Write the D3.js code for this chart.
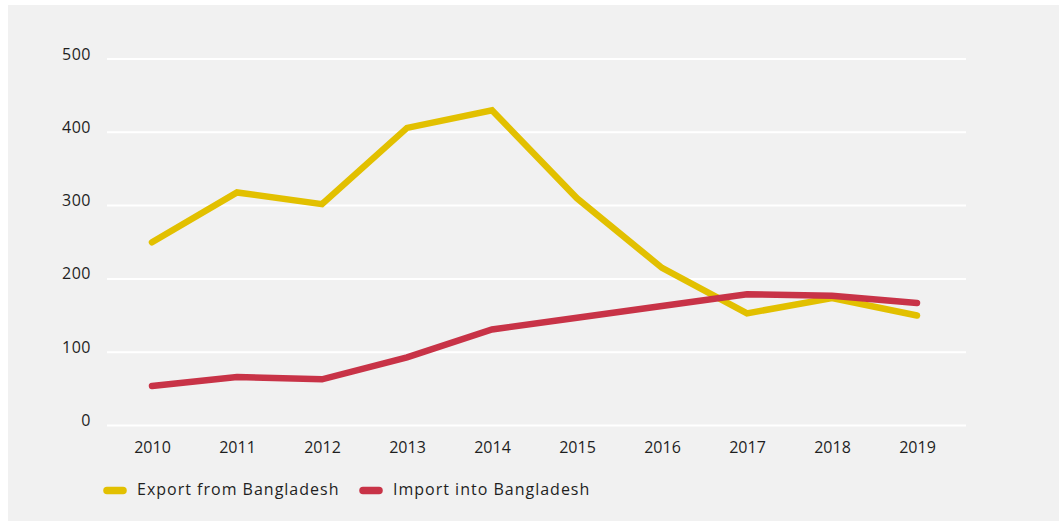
<!DOCTYPE html>
<html>
<head>
<meta charset="utf-8">
<script src="https://cdn.jsdelivr.net/npm/d3@7"></script>
<style>
  html, body { margin: 0; padding: 0; background: #ffffff; }
  svg { display: block; }
  text { font-family: "Open Sans", "DejaVu Sans", sans-serif; fill: #1f1f1f; }
</style>
</head>
<body>
<svg id="chart" width="1059" height="522"></svg>
<script>
// Trade between the two countries, 2010–2019
const years = ["2010", "2011", "2012", "2013", "2014", "2015", "2016", "2017", "2018", "2019"];
const exportValues = [250, 318, 302, 406, 430, 310, 215, 153, 174, 150];
const importValues = [54, 66, 63, 93, 131, 147, 163, 179, 177, 167];
const yTicks = [0, 100, 200, 300, 400, 500];
const seriesNames = ["Export from Bangladesh", "Import into Bangladesh"];
const seriesColors = ["#e2c000", "#c83347"];

const svg = d3.select("#chart");

// panel background
svg.append("rect")
  .attr("x", 8).attr("y", 5)
  .attr("width", 1059 - 8).attr("height", 522 - 5 - 1)
  .attr("fill", "#f1f1f1");

const gridLeft = 107, gridRight = 966;
const x = d3.scalePoint().domain(years).range([152, 917]);
const y = d3.scaleLinear().domain([0, 500]).range([425.5, 59]);

// horizontal gridlines with labels sitting just above-left
const grid = svg.append("g");
grid.selectAll("line").data(yTicks).join("line")
  .attr("x1", gridLeft).attr("x2", gridRight)
  .attr("y1", d => y(d)).attr("y2", d => y(d))
  .attr("stroke", "#ffffff").attr("stroke-width", 2);
grid.selectAll("text").data(yTicks).join("text")
  .attr("x", 91).attr("y", d => y(d) + 0.5)
  .attr("text-anchor", "end")
  .attr("font-size", 16)
  .attr("letter-spacing", 0.5)
  .text(d => d);

// x axis labels
const xAxis = svg.append("g").attr("transform", "translate(0,453)")
  .call(d3.axisBottom(x).tickSize(0).tickPadding(0));
xAxis.select(".domain").remove();
xAxis.selectAll("text")
  .attr("dy", 0)
  .attr("font-size", 16)
  .attr("fill", "#1f1f1f")
  .style("font-family", "\"Open Sans\", \"DejaVu Sans\", sans-serif");

// lines
const line = d3.line().x((d, i) => x(years[i])).y(d => y(d));
[exportValues, importValues].forEach((vals, k) => {
  svg.append("path")
    .datum(vals)
    .attr("d", line)
    .attr("fill", "none")
    .attr("stroke", seriesColors[k])
    .attr("stroke-width", 6.5)
    .attr("stroke-linecap", "round")
    .attr("stroke-linejoin", "miter");
});

// legend
const legendX = [107, 363];
const legend = svg.append("g");
seriesNames.forEach((name, k) => {
  legend.append("line")
    .attr("x1", legendX[k]).attr("x2", legendX[k] + 16)
    .attr("y1", 490.5).attr("y2", 490.5)
    .attr("stroke", seriesColors[k])
    .attr("stroke-width", 7.5)
    .attr("stroke-linecap", "round");
  legend.append("text")
    .attr("x", legendX[k] + 30).attr("y", 495)
    .attr("font-size", 16)
    .attr("letter-spacing", 1)
    .text(name);
});
</script>
</body>
</html>
